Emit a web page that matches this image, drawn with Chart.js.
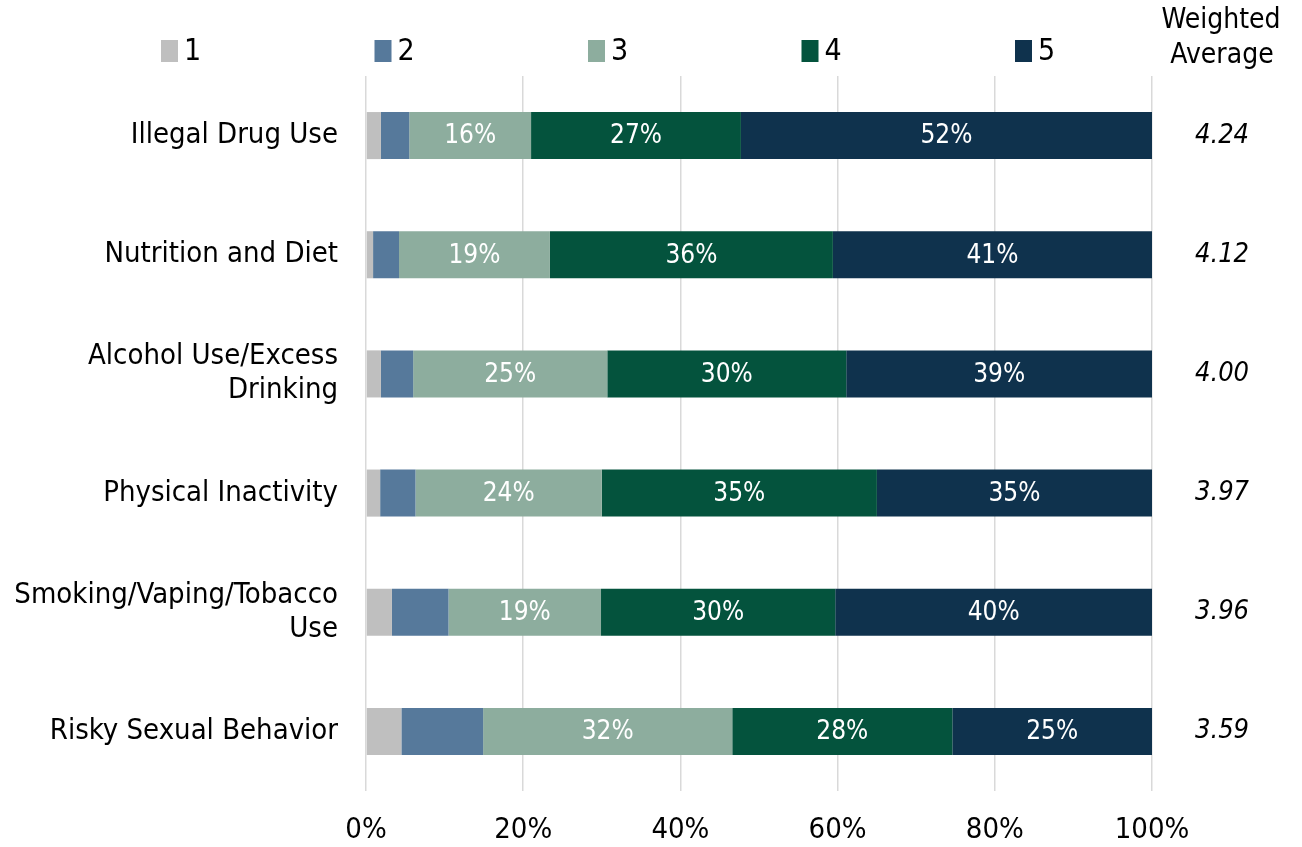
<!DOCTYPE html>
<html>
<head>
<meta charset="utf-8">
<script src="https://cdn.jsdelivr.net/npm/chart.js@4"></script>
<style>
  html, body { margin: 0; padding: 0; background: #fff; }
  #wrap { width: 1302px; height: 847px; }
</style>
</head>
<body>
<div id="wrap"><canvas id="topicChart"></canvas></div>
<script>
// categories and shares (percent)
let topics = [
    'Illegal Drug Use',
    'Nutrition and Diet',
    ['Alcohol Use/Excess', 'Drinking'],
    'Physical Inactivity',
    ['Smoking/Vaping/Tobacco', 'Use'],
    'Risky Sexual Behavior'
];
let rating1 = [1.9, 0.9, 1.9, 1.8, 3.3, 4.5];
let rating2 = [3.6, 3.3, 4.1, 4.5, 7.2, 10.4];
let rating3 = [15.5, 19.2, 24.7, 23.7, 19.4, 31.7];
let rating4 = [26.7, 36.0, 30.4, 35.0, 29.8, 28.0];
let rating5 = [52.3, 40.6, 38.9, 35.0, 40.3, 25.4];
let weightedAvg = ['4.24', '4.12', '4.00', '3.97', '3.96', '3.59'];
let xTicks = ['0%', '20%', '40%', '60%', '80%', '100%'];

let fontName = "'DejaVu Sans Condensed', 'DejaVu Sans', sans-serif";
let colors = ['#bfbfbf', '#56799b', '#8dad9e', '#04533d', '#0f324d'];
let ctx1 = document.getElementById('topicChart').getContext('2d');

// legend, bar labels and the weighted average column
let extras = {
    id: 'extras',
    afterDatasetsDraw(chart) {
        let c = chart.ctx;
        let yScale = chart.scales.y;

        // white percentages inside the bigger segments
        c.save();
        c.fillStyle = '#ffffff';
        c.font = '26px ' + fontName;
        c.textAlign = 'center';
        c.textBaseline = 'middle';
        chart.data.datasets.forEach(function(ds, di) {
            if (di < 2) return;
            chart.getDatasetMeta(di).data.forEach(function(bar, i) {
                c.fillText(Math.round(ds.data[i]) + '%', (bar.x + bar.base) / 2, bar.y + 1);
            });
        });
        c.restore();

        // legend
        c.save();
        c.font = '30px ' + fontName;
        c.textBaseline = 'middle';
        chart.data.datasets.forEach(function(ds, di) {
            let lx = 161 + di * 213.5;
            c.fillStyle = ds.backgroundColor;
            c.fillRect(lx, 40, 17, 22);
            c.fillStyle = '#000000';
            c.fillText(ds.label, lx + 23, 52);
        });
        c.restore();

        // weighted average header and values
        c.save();
        c.fillStyle = '#000000';
        c.textAlign = 'center';
        c.textBaseline = 'middle';
        c.font = '28px ' + fontName;
        c.fillText('Weighted', 1221, 21);
        c.fillText('Average', 1222, 56);
        c.font = 'italic 27px ' + fontName;
        weightedAvg.forEach(function(v, i) {
            c.fillText(v, 1222, yScale.getPixelForValue(i));
        });
        c.restore();
    }
};

let myChart = new Chart(ctx1, {
    type: 'bar',
    data: {
        labels: topics,
        datasets: [
            { label: '1', data: rating1, backgroundColor: colors[0] },
            { label: '2', data: rating2, backgroundColor: colors[1] },
            { label: '3', data: rating3, backgroundColor: colors[2] },
            { label: '4', data: rating4, backgroundColor: colors[3] },
            { label: '5', data: rating5, backgroundColor: colors[4] }
        ]
    },
    options: {
        indexAxis: 'y',
        responsive: true,
        maintainAspectRatio: false,
        animation: false,
        categoryPercentage: 0.79,
        barPercentage: 0.5,
        layout: {
            padding: { top: 76, right: 150, left: 6, bottom: 0 }
        },
        plugins: {
            legend: { display: false },
            tooltip: { enabled: false }
        },
        scales: {
            x: {
                stacked: true,
                min: 0,
                max: 100,
                afterBuildTicks: function(scale) {
                    scale.ticks = xTicks.map(function(t, i) { return { value: i * 20 }; });
                },
                afterFit: function(scale) {
                    scale.height = 56;
                },
                border: { display: false },
                grid: {
                    color: '#d9d9d9',
                    lineWidth: 1.5,
                    drawTicks: false
                },
                ticks: {
                    padding: 22,
                    color: '#000000',
                    font: { family: fontName, size: 29 },
                    callback: function(value, index) { return xTicks[index]; }
                }
            },
            y: {
                stacked: true,
                afterFit: function(scale) {
                    scale.width = 360;
                },
                border: { display: false },
                grid: { display: false, drawTicks: false },
                ticks: {
                    padding: 28,
                    color: '#000000',
                    font: { family: fontName, size: 29, lineHeight: 1.17 }
                }
            }
        }
    },
    plugins: [extras]
});
</script>
</body>
</html>
